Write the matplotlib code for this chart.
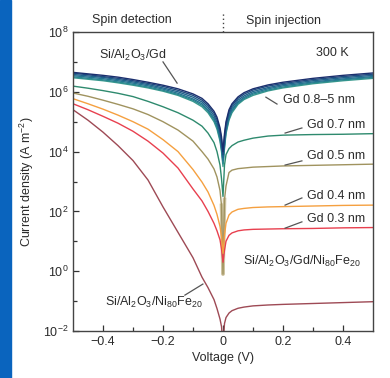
import numpy as np
import matplotlib
matplotlib.use("Agg")
import matplotlib.pyplot as plt
from matplotlib import font_manager
from matplotlib.patches import Rectangle

names = {f.name for f in font_manager.fontManager.ttflist}
family = "Liberation Sans Narrow" if "Liberation Sans Narrow" in names else "Liberation Sans"
plt.rcParams["font.family"] = [family, "DejaVu Sans"]
plt.rcParams["mathtext.default"] = "regular"

# voltage grid (V) shared by all curves
voltage = [-0.5, -0.45, -0.4, -0.35, -0.3, -0.25, -0.2, -0.15, -0.1, -0.07, -0.05,
           -0.03, -0.02, -0.01, -0.005, 0.0,
           0.005, 0.01, 0.02, 0.03, 0.05, 0.07, 0.1, 0.15, 0.2, 0.3, 0.4, 0.5]

# log10 of current density (A m^-2)
nife = [5.40, 5.05, 4.65, 4.20, 3.70, 3.05, 2.15, 1.30, 0.45, -0.20, -0.55, -0.95, -1.25, -1.60, -1.85,
        -2.5,
        -1.75, -1.55, -1.40, -1.32, -1.24, -1.20, -1.16, -1.13, -1.11, -1.08, -1.05, -1.02]
gd03 = [5.60, 5.40, 5.18, 4.95, 4.68, 4.35, 3.95, 3.45, 2.75, 2.35, 2.00, 1.60, 1.35, 1.05, 0.75,
        0.3,
        0.70, 1.00, 1.20, 1.28, 1.35, 1.38, 1.40, 1.41, 1.42, 1.43, 1.45, 1.46]
gd04 = [5.77, 5.60, 5.42, 5.22, 5.00, 4.75, 4.40, 4.00, 3.40, 2.98, 2.65, 2.20, 1.90, 1.50, 1.15,
        0.6,
        1.20, 1.60, 1.88, 1.98, 2.07, 2.10, 2.13, 2.15, 2.16, 2.18, 2.20, 2.21]
gd05 = [5.96, 5.85, 5.72, 5.58, 5.43, 5.24, 5.00, 4.72, 4.35, 4.00, 3.75, 3.42, 3.15, 2.70, 2.20,
        -0.1,
        2.40, 2.85, 3.30, 3.38, 3.43, 3.45, 3.48, 3.50, 3.52, 3.54, 3.56, 3.58]
gd07 = [6.19, 6.12, 6.04, 5.95, 5.84, 5.68, 5.50, 5.30, 5.05, 4.85, 4.62, 4.30, 4.00, 3.55, 3.10,
        2.5,
        3.55, 3.90, 4.10, 4.20, 4.32, 4.38, 4.45, 4.52, 4.55, 4.57, 4.58, 4.60]
# Gd 0.8-5 nm bundle
gd_thick = [
    [6.65, 6.60, 6.55, 6.49, 6.41, 6.32, 6.22, 6.10, 5.93, 5.78, 5.60, 5.35, 5.15, 4.80, 4.50,
     4.0,
     4.60, 5.00, 5.40, 5.60, 5.83, 5.97, 6.10, 6.23, 6.32, 6.45, 6.55, 6.63],
    [6.62, 6.57, 6.51, 6.45, 6.37, 6.28, 6.18, 6.05, 5.88, 5.72, 5.54, 5.28, 5.07, 4.71, 4.40,
     3.9,
     4.50, 4.92, 5.33, 5.54, 5.78, 5.92, 6.06, 6.19, 6.28, 6.41, 6.51, 6.59],
    [6.58, 6.53, 6.48, 6.41, 6.33, 6.24, 6.13, 6.00, 5.82, 5.66, 5.47, 5.20, 4.98, 4.61, 4.28,
     3.8,
     4.38, 4.82, 5.25, 5.47, 5.72, 5.86, 6.01, 6.14, 6.24, 6.37, 6.47, 6.55],
    [6.54, 6.49, 6.44, 6.37, 6.29, 6.20, 6.09, 5.95, 5.76, 5.60, 5.40, 5.12, 4.89, 4.50, 4.16,
     3.7,
     4.26, 4.72, 5.17, 5.40, 5.66, 5.81, 5.96, 6.10, 6.20, 6.33, 6.43, 6.51],
    [6.50, 6.45, 6.40, 6.33, 6.25, 6.16, 6.05, 5.91, 5.72, 5.55, 5.35, 5.06, 4.82, 4.42, 4.08,
     3.6,
     4.18, 4.66, 5.11, 5.35, 5.62, 5.77, 5.92, 6.06, 6.16, 6.30, 6.40, 6.48],
    [6.47, 6.42, 6.37, 6.30, 6.22, 6.13, 6.02, 5.88, 5.68, 5.50, 5.30, 5.00, 4.75, 4.35, 4.00,
     3.5,
     4.10, 4.60, 5.05, 5.30, 5.58, 5.74, 5.88, 6.03, 6.13, 6.27, 6.37, 6.45],
]
thick_colors = ["#1b2f6e", "#1f4c80", "#21638c", "#247590", "#2a8790", "#3a9a8e"]

ytick_vals = [-2, 0, 2, 4, 6, 8]
xtick_vals = [-0.4, -0.2, 0, 0.2, 0.4]
xtick_labels = ["\u22120.4", "\u22120.2", "0", "0.2", "0.4"]

txt = "#2b2b2b"
fig = plt.figure(figsize=(3.9, 3.78), dpi=100)
fig.patches.append(Rectangle((0, 0), 11 / 390, 1, transform=fig.transFigure,
                             color="#0a64be", zorder=0))
ax = fig.add_axes([73 / 390, 1 - 331 / 378, 300 / 390, 299 / 378])

v = np.array(voltage)
ax.plot(v, 10 ** np.array(nife), color="#9e4a55", lw=1.0)
# the wide beige tip where the Gd curves meet at zero bias
ax.plot(v[14:17], 10 ** np.array(gd05[14:17]), color="#cfc4a2", lw=2.6)
ax.plot(v, 10 ** np.array(gd05), color="#a0935f", lw=1.0)
ax.plot(v, 10 ** np.array(gd03), color="#e8404f", lw=1.0)
ax.plot(v, 10 ** np.array(gd04), color="#f5a040", lw=1.0)
ax.plot(v, 10 ** np.array(gd07), color="#2e8a6e", lw=1.0)
for vals, c in zip(gd_thick[::-1], thick_colors[::-1]):
    ax.plot(v, 10 ** np.array(vals), color=c, lw=1.0)

ax.set_yscale("log")
ax.set_xlim(-0.5, 0.5)
ax.set_ylim(1e-2, 1e8)
ax.set_yticks([10.0 ** k for k in ytick_vals])
ax.set_yticklabels(["10$^{%s}$" % (("\u2212%d" % -k) if k < 0 else k) for k in ytick_vals])
ax.set_yticks([10.0 ** k for k in range(-1, 8, 2)], minor=True)
ax.set_yticklabels([], minor=True)
ax.set_xticks(xtick_vals)
ax.set_xticklabels(xtick_labels)
ax.set_xticks([-0.3, -0.1, 0.1, 0.3], minor=True)
ax.tick_params(which="both", direction="in", colors="#333333", labelsize=9,
               labelcolor=txt, width=0.9)
ax.tick_params(which="major", length=4)
ax.tick_params(which="minor", length=3)
for s in ax.spines.values():
    s.set_color("#444444")
    s.set_linewidth(1.0)

ax.set_xlabel("Voltage (V)", fontsize=9, color=txt, labelpad=3)
ax.set_ylabel("Current density (A m$^{-2}$)", fontsize=9, color=txt, labelpad=5)

# annotations
fs = 9
ax.text(-0.3, 10 ** 7.23, "Si/Al$_2$O$_3$/Gd", ha="center", va="center", fontsize=fs, color=txt)
ax.plot([-0.2, -0.153], [10 ** 7.0, 10 ** 6.29], color="#555555", lw=0.9)
ax.text(0.363, 10 ** 7.3, "300 K", ha="center", va="center", fontsize=fs, color=txt)
ax.text(0.2, 10 ** 5.72, "Gd 0.8\u20135 nm", ha="left", va="center", fontsize=fs, color=txt)
ax.plot([0.143, 0.18], [10 ** 5.82, 10 ** 5.59], color="#555555", lw=0.9)
for lab, ly, y0, y1 in [("Gd 0.7 nm", 4.89, 4.62, 4.79),
                        ("Gd 0.5 nm", 3.85, 3.55, 3.69),
                        ("Gd 0.4 nm", 2.52, 2.21, 2.45),
                        ("Gd 0.3 nm", 1.75, 1.44, 1.65)]:
    ax.text(0.28, 10 ** ly, lab, ha="left", va="center", fontsize=fs, color=txt)
    ax.plot([0.207, 0.263], [10 ** y0, 10 ** y1], color="#555555", lw=0.9)
ax.text(0.067, 10 ** 0.31, "Si/Al$_2$O$_3$/Gd/Ni$_{80}$Fe$_{20}$", ha="left", va="center",
        fontsize=fs, color=txt)
ax.text(-0.393, 10 ** -1.06, "Si/Al$_2$O$_3$/Ni$_{80}$Fe$_{20}$", ha="left", va="center",
        fontsize=fs, color=txt)
ax.plot([-0.127, -0.067], [10 ** -0.8, 10 ** -0.43], color="#555555", lw=0.9)

fig.text(132 / 390, 1 - 20 / 378, "Spin detection", ha="center", va="center", fontsize=fs, color=txt)
fig.text(284 / 390, 1 - 21 / 378, "Spin injection", ha="center", va="center", fontsize=fs, color=txt)
ax.plot([0, 0], [1.0, 1.068], transform=ax.get_xaxis_transform(), clip_on=False,
        color="#444444", lw=1.0, ls=(0, (1, 2)))

fig.savefig("out.png", dpi=100)
